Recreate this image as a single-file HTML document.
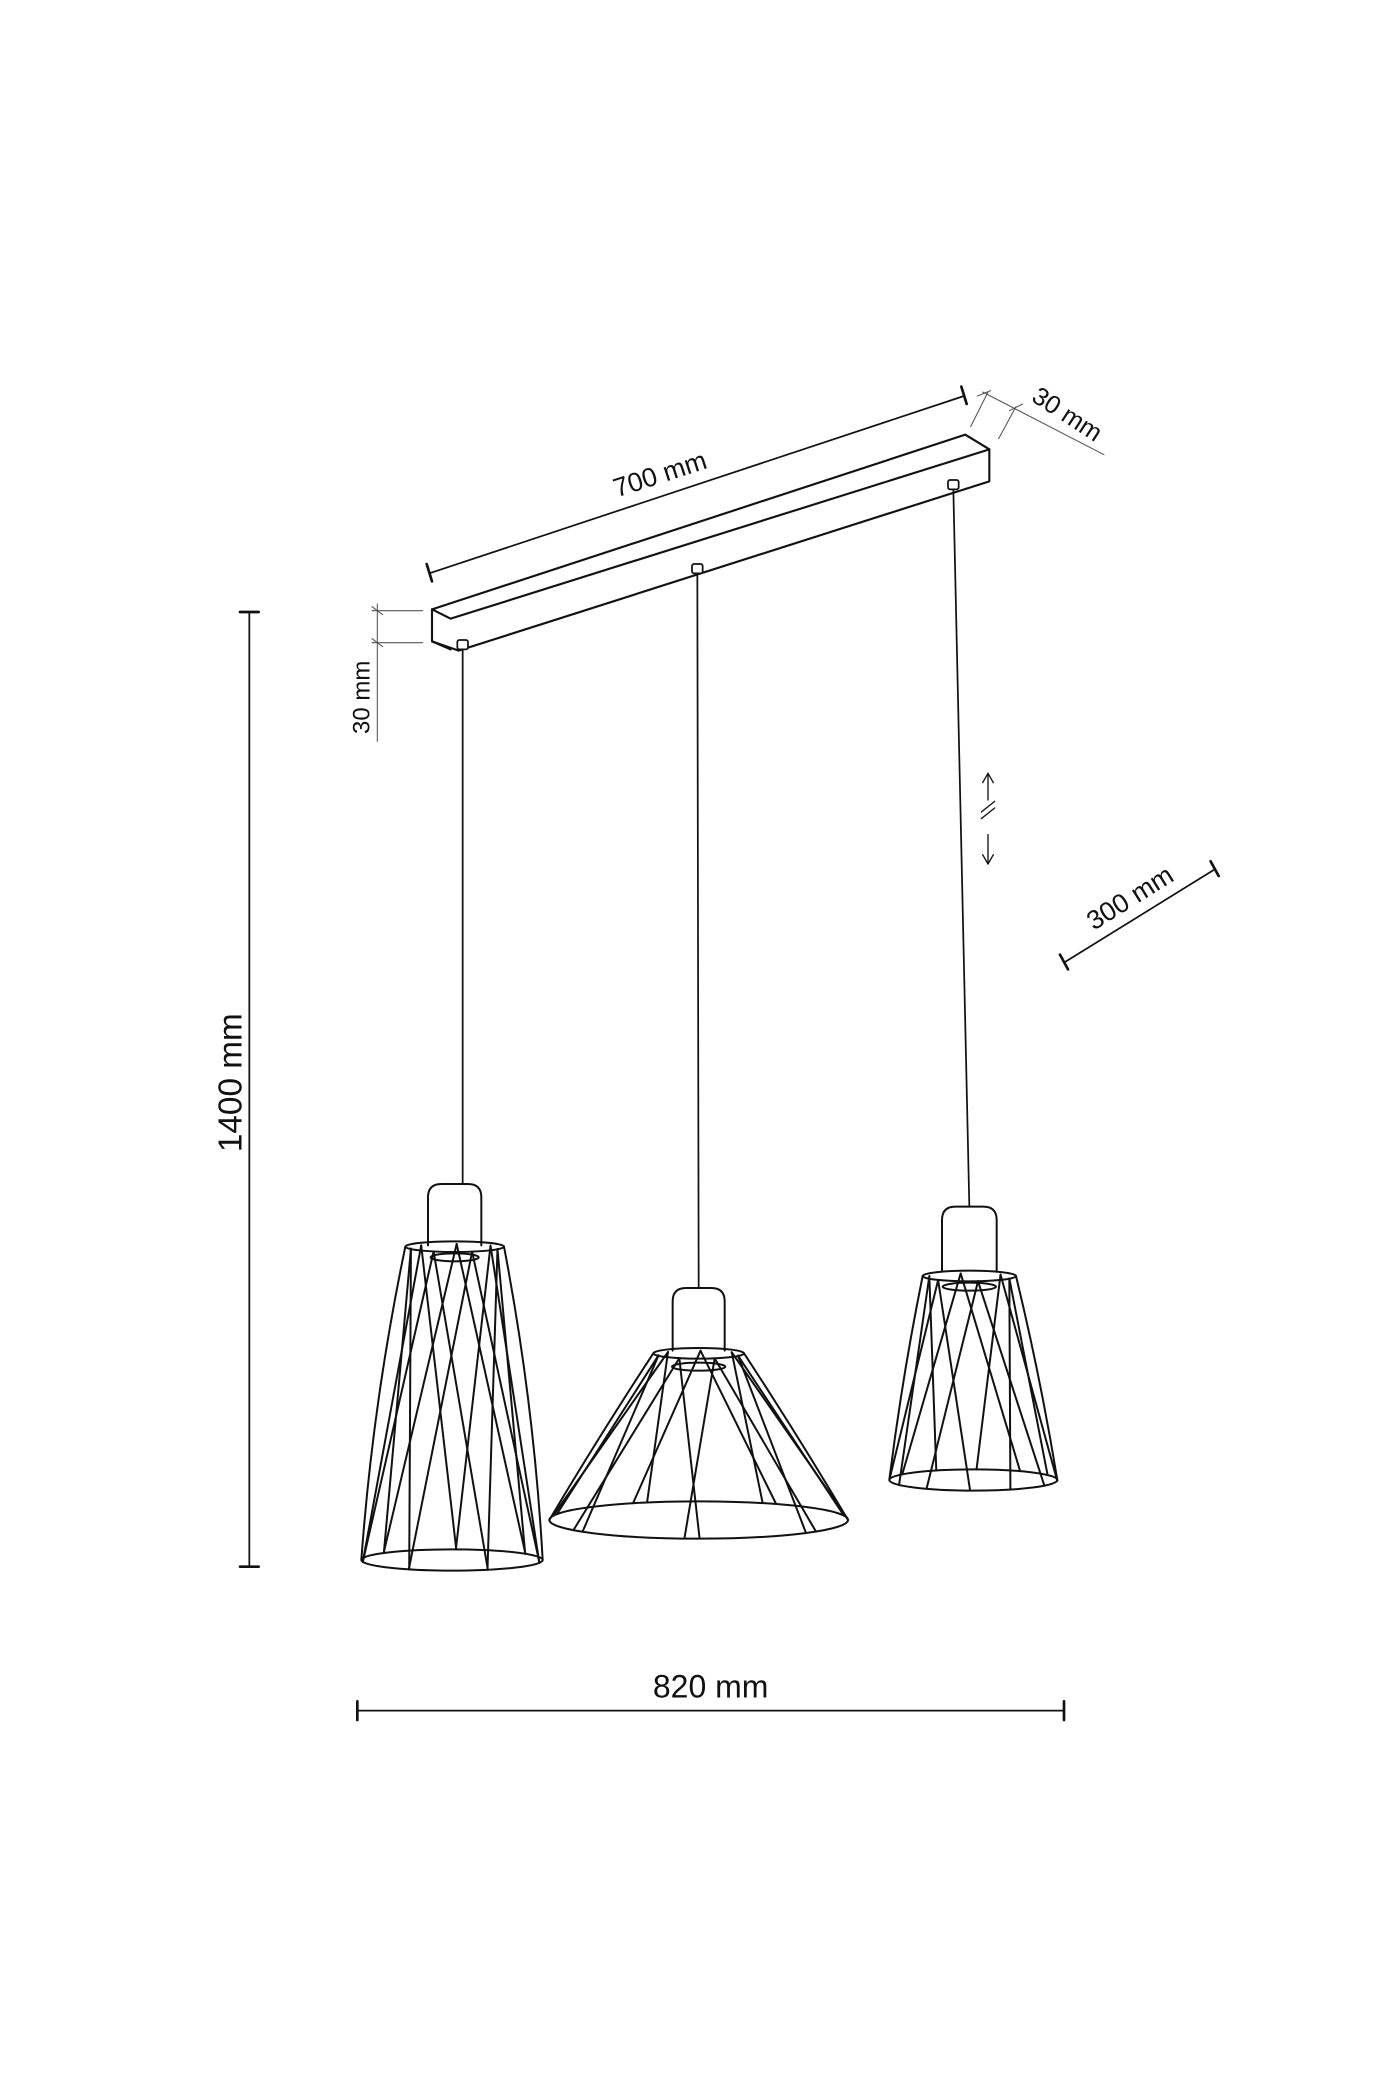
<!DOCTYPE html>
<html><head><meta charset="utf-8"><style>
html,body{margin:0;padding:0;background:#fff;width:1400px;height:2100px;overflow:hidden}
svg{display:block}
text{font-family:"Liberation Sans",sans-serif;fill:#111}
</style></head><body>
<svg id="s" width="1400" height="2100" viewBox="0 0 1050 1575" xmlns="http://www.w3.org/2000/svg" fill="none" stroke="#111" stroke-width="1.3" stroke-linejoin="round" stroke-linecap="round">
<!-- 1400 mm -->
<line x1="187" y1="459" x2="187" y2="1175"/>
<line x1="180" y1="459" x2="194" y2="459" stroke-width="2"/>
<line x1="180" y1="1175" x2="194" y2="1175" stroke-width="2"/>
<text x="0" y="0" font-size="25" stroke="none" text-anchor="middle" transform="translate(181,812) rotate(-90)">1400 mm</text>
<!-- 820 mm -->
<line x1="268" y1="1283" x2="798" y2="1283"/>
<line x1="268" y1="1276" x2="268" y2="1290" stroke-width="2"/>
<line x1="798" y1="1276" x2="798" y2="1290" stroke-width="2"/>
<text x="533" y="1273" font-size="24" stroke="none" text-anchor="middle">820 mm</text>
<!-- 700 mm -->
<line x1="322" y1="430" x2="723" y2="297"/>
<line x1="320" y1="423" x2="324" y2="436" stroke-width="2"/>
<line x1="721" y1="290" x2="725" y2="303" stroke-width="2"/>
<text x="0" y="0" font-size="20" stroke="none" text-anchor="middle" transform="translate(497,362) rotate(-18)">700 mm</text>
<!-- 30 mm top right -->
<g stroke="#555" stroke-width="0.8">
<line x1="737" y1="294" x2="828" y2="341"/>
<line x1="741" y1="294" x2="728" y2="320"/>
<line x1="762" y1="305" x2="749" y2="329"/>
<line x1="733" y1="297" x2="743" y2="293"/>
<line x1="757" y1="308" x2="767" y2="303"/>
</g>
<text x="0" y="0" font-size="19" stroke="none" text-anchor="middle" transform="translate(797,316) rotate(33)">30 mm</text>
<!-- 30 mm left -->
<g stroke="#555" stroke-width="0.8">
<line x1="283" y1="453" x2="283" y2="556"/>
<line x1="279" y1="458" x2="317" y2="458"/>
<line x1="279" y1="482" x2="317" y2="482"/>
<line x1="279" y1="455" x2="287" y2="461"/>
<line x1="279" y1="479" x2="287" y2="485"/>
</g>
<text x="0" y="0" font-size="18" stroke="none" text-anchor="middle" transform="translate(277,523) rotate(-90)">30 mm</text>
<!-- bar -->
<g stroke-width="1.6">
<path d="M324 457 L724 326 L742 337 L742 361 L344 488 L324 481 Z"/>
<path d="M324 457 L338 464 L742 337"/>
<path d="M324 481 L338 487"/>
</g>
<!-- mounts -->
<rect x="343" y="480" width="8" height="7" rx="1.5" fill="#fff"/>
<rect x="519" y="423" width="8" height="7" rx="1.5" fill="#fff"/>
<rect x="711" y="360" width="8" height="7" rx="1.5" fill="#fff"/>
<!-- cords -->
<line x1="347" y1="487" x2="347" y2="888"/>
<line x1="523" y1="430" x2="524" y2="966"/>
<line x1="715" y1="367" x2="727" y2="905"/>
<!-- arrows -->
<g stroke-width="1">
<line x1="741" y1="580" x2="741" y2="600"/><path d="M737 587 L741 580 L745 587"/>
<line x1="741" y1="626" x2="741" y2="648"/><path d="M737 641 L741 648 L745 641"/>
<line x1="736" y1="609" x2="746" y2="601"/><line x1="736" y1="614" x2="746" y2="606"/>
</g>
<!-- 300 mm -->
<line x1="798" y1="722" x2="911" y2="652"/>
<line x1="795" y1="716" x2="801" y2="727" stroke-width="2"/>
<line x1="908" y1="646" x2="914" y2="657" stroke-width="2"/>
<text x="0" y="0" font-size="20" stroke="none" text-anchor="middle" transform="translate(851,679) rotate(-32)">300 mm</text>
<g id="lamps" stroke-width="1.5"></g>
</svg>
<script>
var g=document.getElementById('lamps');var NS='http://www.w3.org/2000/svg';
function el(t,a){var e=document.createElementNS(NS,t);for(var k in a)e.setAttribute(k,a[k]);g.appendChild(e);return e;}
function lamp(o){
 var x0=o.cx-o.sw/2,x1=o.cx+o.sw/2,r=10;
 el('path',{d:'M'+x0+' '+o.sb+' L'+x0+' '+(o.st+r)+' Q'+x0+' '+o.st+' '+(x0+r)+' '+o.st+' L'+(x1-r)+' '+o.st+' Q'+x1+' '+o.st+' '+x1+' '+(o.st+r)+' L'+x1+' '+o.sb});
 el('ellipse',{cx:o.cx,cy:o.ty,rx:o.trx,ry:4});
 el('ellipse',{cx:o.cx,cy:o.iy,rx:o.irx,ry:3});
 el('ellipse',{cx:o.bcx,cy:o.by,rx:o.brx,ry:o.bry});
 var my=(o.ty+o.by)/2;
 var lx=((o.cx-o.trx)+(o.bcx-o.brx))/2-o.bulge, rx=((o.cx+o.trx)+(o.bcx+o.brx))/2+o.bulge;
 el('path',{d:'M'+(o.cx-o.trx)+' '+o.ty+' Q'+lx+' '+my+' '+(o.bcx-o.brx)+' '+o.by});
 el('path',{d:'M'+(o.cx+o.trx)+' '+o.ty+' Q'+rx+' '+my+' '+(o.bcx+o.brx)+' '+o.by});
 var n=o.n;
 for(var i=0;i<n;i++){
  for(var s=-1;s<=1;s+=2){
   var a=(i+0.3)/n*2*Math.PI, b=a+s*o.tw;
   var xa=o.cx+o.trx*0.9*Math.cos(a), ya=o.ty+3*Math.sin(a)+1;
   var xb=o.bcx+o.brx*Math.cos(b), yb=o.by+o.bry*Math.sin(b);
   el('line',{x1:xa.toFixed(1),y1:ya.toFixed(1),x2:xb.toFixed(1),y2:yb.toFixed(1)});
  }
 }
}
lamp({cx:341,sw:40,st:888,sb:934,ty:935,trx:37,iy:943,irx:18,bcx:339,by:1170,brx:68,bry:8,bulge:8,n:7,tw:0.9});
lamp({cx:524,sw:39,st:966,sb:1013,ty:1015,trx:34,iy:1025,irx:20,bcx:524,by:1140,brx:112,bry:14,bulge:2,n:7,tw:0.5});
lamp({cx:727,sw:41,st:905,sb:953,ty:957,trx:35,iy:965,irx:20,bcx:730,by:1110,brx:63,bry:8,bulge:3,n:6,tw:0.8});
</script>
</body></html>
